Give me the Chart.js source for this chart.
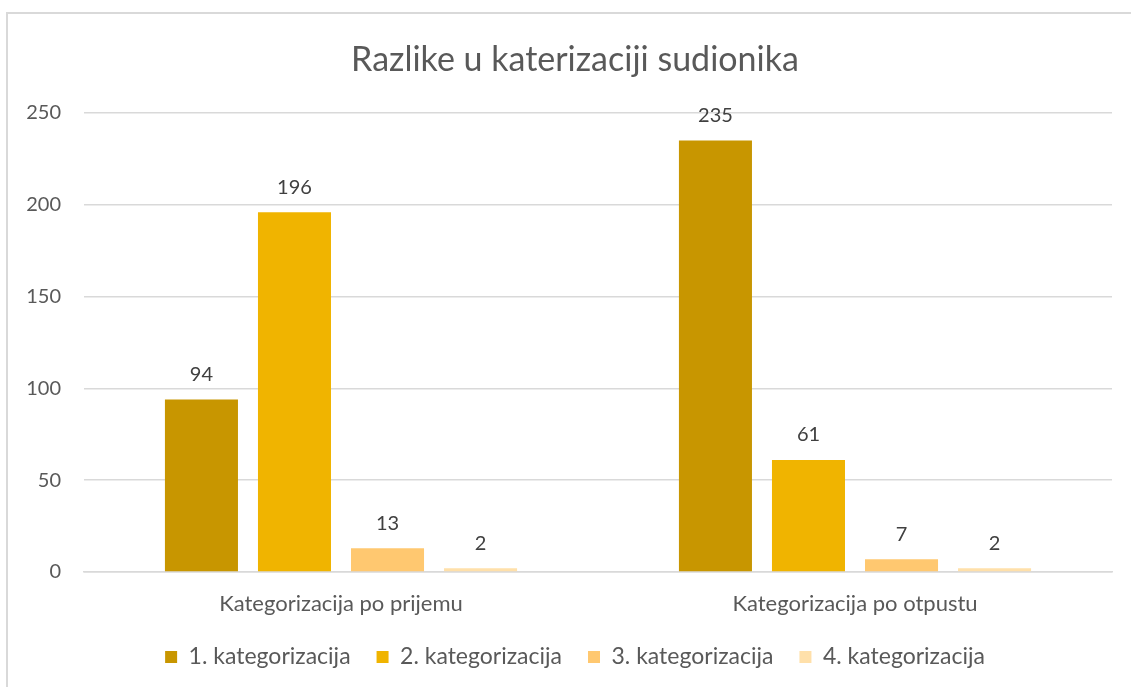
<!DOCTYPE html>
<html>
<head>
<meta charset="utf-8">
<script src="https://cdn.jsdelivr.net/npm/chart.js@4/dist/chart.umd.min.js"></script>
<style>
html,body{margin:0;padding:0;background:#fff;}
#wrap{width:1131px;height:687px;position:relative;}
</style>
</head>
<body>
<div id="wrap"><canvas id="c" width="1131" height="687"></canvas></div>
<script>
const titleText = "Razlike u katerizaciji sudionika";
const categories = ["Kategorizacija po prijemu", "Kategorizacija po otpustu"];
const seriesNames = ["1. kategorizacija", "2. kategorizacija", "3. kategorizacija", "4. kategorizacija"];
const kat1 = [94, 235];
const kat2 = [196, 61];
const kat3 = [13, 7];
const kat4 = [2, 2];
const yTicks = [0, 50, 100, 150, 200, 250];

const colors = ["#C89600", "#F0B400", "#FFC870", "#FFE0AA"];
const FONT = "Lato, 'Open Sans', sans-serif";

const borderPlugin = {
  id: 'outerBorder',
  beforeDraw(chart) {
    const ctx = chart.ctx;
    ctx.save();
    ctx.strokeStyle = '#d9d9d9';
    ctx.lineWidth = 2;
    ctx.strokeRect(7, 13, 1140, 700);
    ctx.restore();
  }
};

const labelPlugin = {
  id: 'valueLabels',
  afterDatasetsDraw(chart) {
    const ctx = chart.ctx;
    ctx.save();
    ctx.font = "20px " + FONT;
    ctx.fillStyle = '#404040';
    ctx.textAlign = 'center';
    ctx.textBaseline = 'middle';
    chart.data.datasets.forEach((ds, i) => {
      const meta = chart.getDatasetMeta(i);
      meta.data.forEach((bar, j) => {
        ctx.fillText(String(ds.data[j]), bar.x, bar.y - 25);
      });
    });
    ctx.restore();
  }
};

const allSeries = [kat1, kat2, kat3, kat4];

new Chart(document.getElementById('c'), {
  type: 'bar',
  data: {
    labels: categories,
    datasets: allSeries.map((d, i) => ({
      label: seriesNames[i],
      data: d,
      backgroundColor: colors[i],
      borderWidth: 0,
      categoryPercentage: 0.724,
      barPercentage: 0.785
    }))
  },
  options: {
    responsive: false,
    animation: false,
    layout: { padding: { left: 38, right: 19, top: 28, bottom: 8.5 } },
    plugins: {
      title: {
        display: true,
        text: titleText,
        color: '#595959',
        font: { family: FONT, size: 34, weight: 'normal' },
        padding: { top: 11.6, bottom: 32.6 }
      },
      legend: {
        position: 'bottom',
        labels: {
          color: '#595959',
          font: { family: FONT, size: 23 },
          boxWidth: 12,
          boxHeight: 12,
          padding: 26
        }
      },
      tooltip: { enabled: false }
    },
    scales: {
      x: {
        afterFit(scale) { scale.height = 47.5; },
        grid: { display: false, drawTicks: false },
        border: { display: true, color: '#d9d9d9', width: 1.5 },
        ticks: { color: '#595959', font: { family: FONT, size: 22 }, padding: 19 }
      },
      y: {
        min: 0,
        max: 250,
        afterBuildTicks(scale) { scale.ticks = yTicks.map(v => ({ value: v })); },
        afterFit(scale) {
          scale.width = 46;
          scale._computeLabelArea = () => undefined;
        },
        grid: { color: '#d9d9d9', lineWidth: 1.5, drawTicks: false },
        border: { display: false },
        ticks: { color: '#595959', font: { family: FONT, size: 20 }, padding: 23 }
      }
    }
  },
  plugins: [borderPlugin, labelPlugin]
});
</script>
</body>
</html>
